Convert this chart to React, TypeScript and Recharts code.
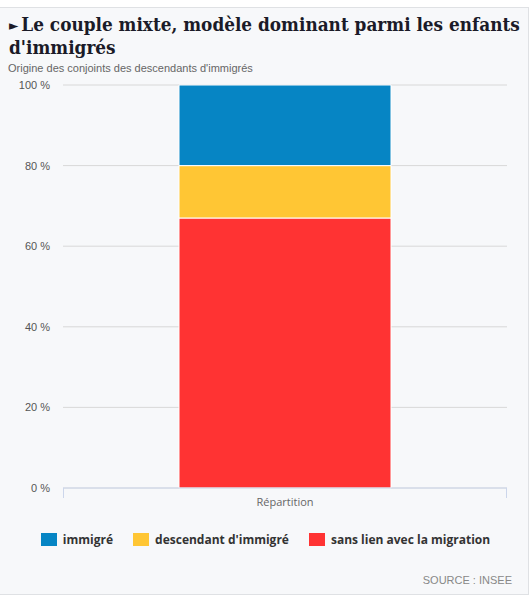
import { Bar, BarChart, CartesianGrid, Legend, XAxis, YAxis } from "recharts";

const categories = ["Répartition"];
const sansLien = [67];
const descendant = [13];
const immigre = [20];
const yTicks = [0, 20, 40, 60, 80, 100];

const seriesNames: Record<string, string> = {
  sansLien: "sans lien avec la migration",
  descendant: "descendant d'immigré",
  immigre: "immigré",
};
// legend reads top of the stack first
const legendOrder = ["immigre", "descendant", "sansLien"];

const data = categories.map((name, i) => ({
  name,
  sansLien: sansLien[i],
  descendant: descendant[i],
  immigre: immigre[i],
}));

const AxisTick = (props: any) => {
  const { x, y, payload, width } = props;
  const half = typeof width === "number" ? width / 2 : 0;
  return (
    <g>
      {half > 0 && (
        <>
          <line x1={x - half + 0.5} x2={x - half + 0.5} y1={y} y2={y + 10} stroke="#ccd6eb" />
          <line x1={x + half - 0.5} x2={x + half - 0.5} y1={y} y2={y + 10} stroke="#ccd6eb" />
        </>
      )}
      <text x={x} y={y + 18} textAnchor="middle" fill="#666" fontSize={11} fontFamily="'Open Sans', sans-serif">
        {payload.value}
      </text>
    </g>
  );
};

const LegendContent = (props: any) => {
  const items = legendOrder
    .map((k) => (props.payload || []).find((p: any) => p.dataKey === k))
    .filter(Boolean);
  return (
    <div style={{ display: "flex", justifyContent: "center", gap: 20, paddingLeft: 16, paddingTop: 13 }}>
      {items.map((it: any) => (
        <div key={it.value} style={{ display: "flex", alignItems: "center" }}>
          <span style={{ display: "inline-block", width: 16, height: 13, background: it.color, marginRight: 6 }} />
          <span style={{ fontFamily: "'Open Sans', sans-serif", fontWeight: 700, fontSize: 12, color: "#333" }}>
            {it.value}
          </span>
        </div>
      ))}
    </div>
  );
};

export default function App() {
  return (
    <div
      style={{
        position: "absolute",
        left: 0,
        top: 7,
        width: 528,
        height: 586,
        background: "#f7f8fa",
        borderTop: "1px solid #dfe1e4",
        borderRight: "1px solid #dfe1e4",
        borderBottom: "1px solid #dfe1e4",
      }}
    >
      <div
        style={{
          position: "absolute",
          left: 9,
          top: 5,
          fontFamily: "'DejaVu Serif Condensed', 'DejaVu Serif', serif",
          fontWeight: 700,
          fontSize: 18.8,
          lineHeight: "23px",
          color: "#1b1b28",
          whiteSpace: "nowrap",
        }}
      >
        <span style={{ fontSize: 13.5, marginRight: 3, verticalAlign: 1, lineHeight: "10px" }}>►</span>Le couple mixte, modèle dominant parmi les enfants
        <br />
        d'immigrés
      </div>
      <div
        style={{
          position: "absolute",
          left: 8,
          top: 54,
          fontFamily: "'Liberation Sans', Arial, sans-serif",
          fontSize: 11,
          color: "#666",
        }}
      >
        Origine des conjoints des descendants d'immigrés
      </div>
      <div style={{ position: "absolute", left: 0, top: 71 }}>
        <BarChart width={528} height={479} data={data} margin={{ top: 6, right: 21, left: 8, bottom: 0 }}>
          <CartesianGrid vertical={false} stroke="#d8d8d8" />
          <XAxis
            dataKey="name"
            height={30}
            axisLine={{ stroke: "#ccd6eb" }}
            tickLine={false}
            tick={<AxisTick />}
            tickSize={0}
            tickMargin={0}
          />
          <YAxis
            width={55}
            domain={[0, 100]}
            ticks={yTicks}
            axisLine={false}
            tickLine={false}
            tickSize={0}
            tickMargin={13}
            tickFormatter={(v: number) => `${v} %`}
            tick={{ fill: "#555", fontSize: 11, fontFamily: "'Liberation Sans', Arial, sans-serif" }}
          />
          <Legend verticalAlign="bottom" height={40} content={<LegendContent />} />
          <Bar dataKey="sansLien" name={seriesNames.sansLien} stackId="a" fill="#ff3333" stroke="#fff" barSize={212} isAnimationActive={false} />
          <Bar dataKey="descendant" name={seriesNames.descendant} stackId="a" fill="#ffc634" stroke="#fff" barSize={212} isAnimationActive={false} />
          <Bar dataKey="immigre" name={seriesNames.immigre} stackId="a" fill="#0685c4" stroke="#fff" barSize={212} isAnimationActive={false} />
        </BarChart>
      </div>
      <div
        style={{
          position: "absolute",
          right: 16,
          top: 566,
          fontFamily: "'Liberation Sans', Arial, sans-serif",
          fontSize: 11,
          color: "#888",
        }}
      >
        SOURCE : INSEE
      </div>
    </div>
  );
}
